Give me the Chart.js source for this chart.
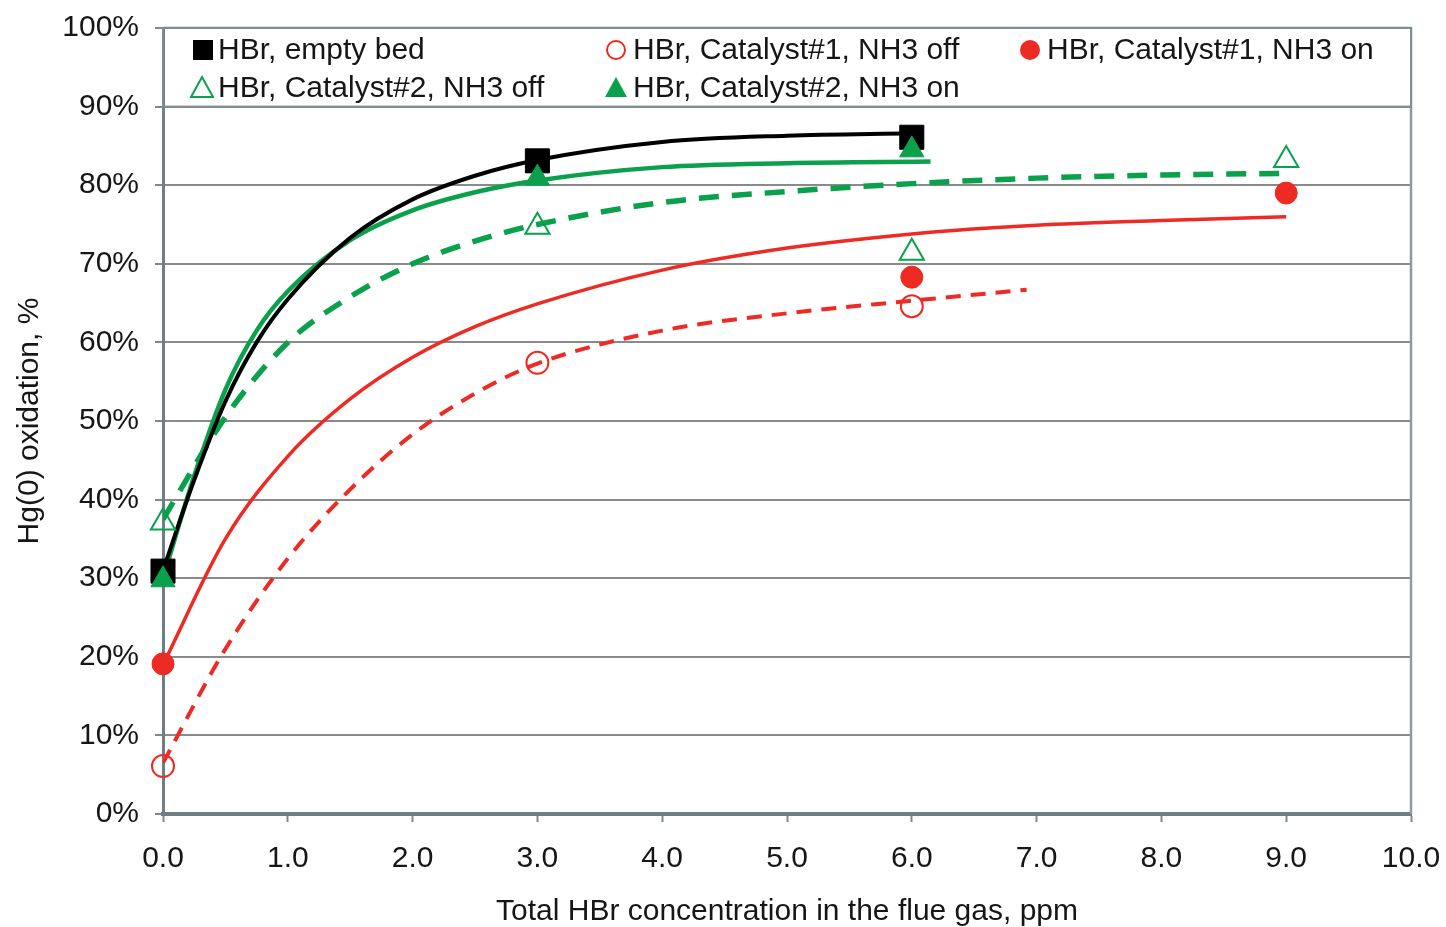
<!DOCTYPE html>
<html><head><meta charset="utf-8">
<script src="https://cdn.jsdelivr.net/npm/chart.js@4.4.1/dist/chart.umd.min.js"></script>
<style>html,body{margin:0;padding:0;background:#fff;}#wrap{width:1446px;height:927px;}</style>
</head><body><div id="wrap"><canvas id="c" width="1446" height="927"></canvas></div>
<script>
// ---- data ----
const seriesNames = [
  'HBr, empty bed',
  'HBr, Catalyst#1, NH3 off',
  'HBr, Catalyst#1, NH3 on',
  'HBr, Catalyst#2, NH3 off',
  'HBr, Catalyst#2, NH3 on'
];
const xTickValues = [0,1,2,3,4,5,6,7,8,9,10];
const yTickValues = [0,10,20,30,40,50,60,70,80,90,100];

// measured points
const emptyBedX = [0, 3, 6];
const emptyBedY = [30.9, 83.1, 86.1];
const cat1OffX = [0, 3, 6];
const cat1OffY = [6.1, 57.4, 64.6];
const cat1OnX = [0, 6, 9];
const cat1OnY = [19.1, 68.3, 79.0];
const cat2OffX = [0, 3, 6, 9];
const cat2OffY = [37.1, 74.7, 71.4, 83.2];
const cat2OnX = [0, 3, 6];
const cat2OnY = [29.8, 80.9, 84.5];

// trend curves
const emptyBedTrendX = [0, 0.25, 0.5, 0.75, 1.0, 1.5, 2.0, 2.5, 3.0, 4.0, 5.0, 6.0];
const emptyBedTrendY = [31, 42.5, 52.5, 60, 65.5, 73.3, 78.2, 81.2, 83.2, 85.5, 86.3, 86.6];
const cat2OnTrendX = [0, 0.25, 0.5, 0.75, 1.0, 1.5, 2.0, 2.5, 3.0, 4.0, 5.0, 6.15];
const cat2OnTrendY = [30, 43, 54, 61.5, 66.5, 73, 76.8, 79.1, 80.6, 82.3, 82.8, 83];
const cat2OffTrendX = [0, 0.5, 1.0, 1.5, 2.0, 2.5, 3.0, 4.0, 5.0, 6.0, 7.0, 8.0, 9.0];
const cat2OffTrendY = [37.5, 50.5, 60, 65.8, 70, 72.9, 75, 77.8, 79.2, 80.2, 80.9, 81.3, 81.5];
const cat1OnTrendX = [0, 0.5, 1.0, 1.5, 2.0, 2.5, 3.0, 4.0, 5.0, 6.0, 7.0, 8.0, 9.0];
const cat1OnTrendY = [19, 35, 45.5, 52.8, 58.1, 62, 64.9, 69.2, 72, 73.8, 74.9, 75.5, 76];
const cat1OffTrendX = [0, 0.5, 1.0, 1.5, 2.0, 2.5, 3.0, 4.0, 5.0, 6.0, 6.92];
const cat1OffTrendY = [6.5, 21, 32.5, 41.3, 48.3, 53.5, 57.3, 61.5, 63.7, 65.3, 66.7];

const xAxisTitle = 'Total HBr concentration in the flue gas, ppm';
const yAxisTitle = 'Hg(0) oxidation, %';

// ---- styles ----
const BLACK = '#000000', RED = '#ee2a24', GREEN = '#0aa04c';
const FONT = "'Liberation Sans', Arial, sans-serif";
const FS = 30;
const TXT = '#161616';
const pts = (xs, ys) => xs.map((x, i) => ({x, y: ys[i]}));

function markerSet(label, xs, ys, style, color, filled, r, order) {
  return {label, data: pts(xs, ys), showLine: false, pointStyle: style, pointRadius: r, pointHoverRadius: r,
    pointBackgroundColor: filled ? color : 'rgba(255,255,255,0)', pointBorderColor: color,
    pointBorderWidth: filled ? 1 : 2, order: order, clip: false};
}
function trendSet(label, xs, ys, color, width, dash) {
  return {label, data: pts(xs, ys), showLine: true, pointRadius: 0, borderColor: color, borderWidth: width,
    borderDash: dash, cubicInterpolationMode: 'monotone', fill: false, order: 1, borderCapStyle: 'butt'};
}

const legendEntries = [
  {i:0, style:'rect', color:BLACK, filled:true, mx:203, tx:218, y:50},
  {i:1, style:'circle', color:RED, filled:false, mx:616, tx:633, y:50},
  {i:2, style:'circle', color:RED, filled:true, mx:1030, tx:1047, y:50},
  {i:3, style:'triangle', color:GREEN, filled:false, mx:202, tx:218, y:88},
  {i:4, style:'triangle', color:GREEN, filled:true, mx:616, tx:633, y:88}
];

const boxLegend = {
  id: 'boxLegend',
  afterDraw(chart) {
    const {ctx, chartArea: a} = chart;
    ctx.save();
    ctx.strokeStyle = '#8e9a9e'; ctx.lineWidth = 2.5;
    ctx.beginPath(); ctx.moveTo(a.left, a.top); ctx.lineTo(a.right, a.top); ctx.lineTo(a.right, a.bottom); ctx.stroke();
    const top = a.top, bottom = chart.scales.y.getPixelForValue(90);
    ctx.fillStyle = '#fff';
    ctx.fillRect(a.left + 2, top + 1, a.right - a.left - 3, bottom - top - 2);
    ctx.strokeStyle = '#7f8c90'; ctx.lineWidth = 2;
    ctx.strokeRect(a.left, top, a.right - a.left, bottom - top);
    ctx.font = FS + 'px ' + FONT; ctx.fillStyle = TXT; ctx.textBaseline = 'middle'; ctx.textAlign = 'left';
    legendEntries.forEach(e => {
      ctx.save();
      ctx.fillStyle = e.color; ctx.strokeStyle = e.color; ctx.lineWidth = 2;
      ctx.beginPath();
      if (e.style === 'rect') { ctx.rect(e.mx - 10, e.y - 10, 20, 20); }
      else if (e.style === 'circle') { ctx.arc(e.mx, e.y, e.filled ? 10 : 9, 0, Math.PI * 2); }
      else { ctx.moveTo(e.mx, e.y - 11); ctx.lineTo(e.mx + 11, e.y + 9); ctx.lineTo(e.mx - 11, e.y + 9); ctx.closePath(); }
      if (e.filled) ctx.fill(); else ctx.stroke();
      ctx.restore();
      ctx.fillText(seriesNames[e.i], e.tx, e.y + 1);
    });
    ctx.restore();
  }
};

new Chart(document.getElementById('c'), {
  type: 'scatter',
  data: {
    datasets: [
      markerSet(seriesNames[0], emptyBedX, emptyBedY, 'rect', BLACK, true, 17, 0),
      markerSet(seriesNames[1], cat1OffX, cat1OffY, 'circle', RED, false, 11, 0),
      markerSet(seriesNames[2], cat1OnX, cat1OnY, 'circle', RED, true, 11, 0),
      markerSet(seriesNames[3], cat2OffX, cat2OffY, 'triangle', GREEN, false, 14, 0),
      markerSet(seriesNames[4], cat2OnX, cat2OnY, 'triangle', GREEN, true, 14, -1),
      trendSet('trend empty bed', emptyBedTrendX, emptyBedTrendY, BLACK, 4, []),
      trendSet('trend cat2 on', cat2OnTrendX, cat2OnTrendY, GREEN, 4.5, []),
      trendSet('trend cat2 off', cat2OffTrendX, cat2OffTrendY, GREEN, 5.5, [20, 13]),
      trendSet('trend cat1 on', cat1OnTrendX, cat1OnTrendY, RED, 3.5, []),
      trendSet('trend cat1 off', cat1OffTrendX, cat1OffTrendY, RED, 4, [15, 10])
    ]
  },
  options: {
    responsive: false, animation: false,
    layout: {padding: {left: 0, right: 35, top: 28, bottom: 0}},
    plugins: {legend: {display: false}, tooltip: {enabled: false}},
    scales: {
      x: {
        type: 'linear', min: 0, max: 10,
        afterBuildTicks: s => { s.ticks = xTickValues.map(v => ({value: v})); },
        afterFit: s => { s.height = 113; s.paddingLeft = 0; s.paddingRight = 0; },
        grid: {drawOnChartArea: false, drawTicks: true, tickLength: 8, tickColor: '#7b8a8e', tickWidth: 2},
        border: {display: true, color: '#6e7f84', width: 4},
        ticks: {padding: 19, color: TXT, font: {family: FONT, size: FS}, callback: v => Number(v).toFixed(1), maxRotation: 0, autoSkip: false},
        title: {display: true, text: xAxisTitle, color: TXT, font: {family: FONT, size: FS, lineHeight: 1}, padding: {top: 0, bottom: 0}}
      },
      y: {
        type: 'linear', min: 0, max: 100,
        afterBuildTicks: s => { s.ticks = yTickValues.map(v => ({value: v})); },
        afterFit: s => { s.width = 163; s.paddingTop = 0; s.paddingBottom = 0; },
        grid: {color: '#8a8a8a', lineWidth: 2, tickLength: 8, tickColor: '#7b8a8e'},
        border: {display: true, color: '#6e7f84', width: 3},
        ticks: {padding: 16, color: TXT, font: {family: FONT, size: FS}, callback: v => v + '%', autoSkip: false},
        title: {display: true, text: yAxisTitle, color: TXT, font: {family: FONT, size: FS, lineHeight: 1}, padding: {top: 15, bottom: 0}}
      }
    }
  },
  plugins: [boxLegend]
});
</script></body></html>
